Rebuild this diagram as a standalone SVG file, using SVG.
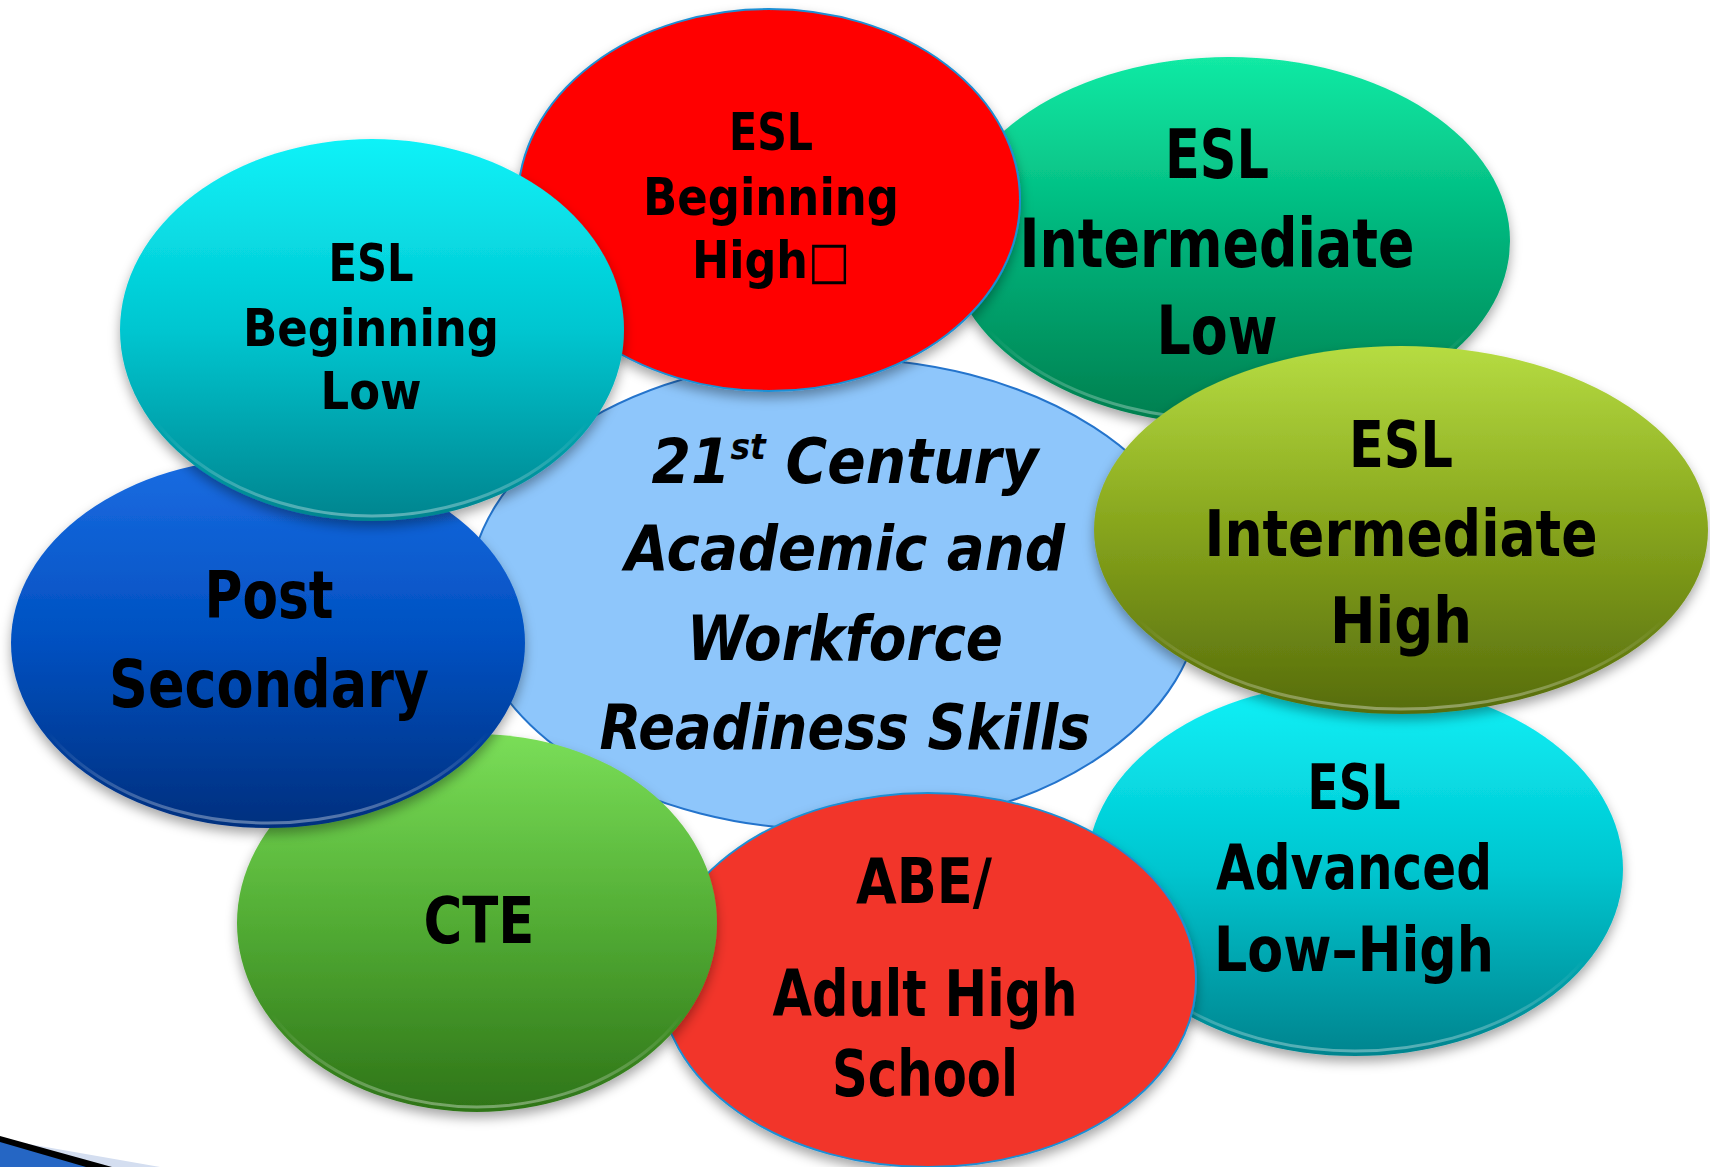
<svg xmlns="http://www.w3.org/2000/svg" width="1710" height="1167" viewBox="0 0 1710 1167">
<style>
.t{font-family:"DejaVu Sans Condensed","DejaVu Sans",sans-serif;font-stretch:condensed;font-weight:bold;fill:#000;text-anchor:middle}
.it{font-family:"DejaVu Sans Condensed","DejaVu Sans",sans-serif;font-stretch:condensed;font-weight:bold;font-style:italic;fill:#000;text-anchor:middle}
.sh{filter:url(#shadow)}
.rim{fill:none;stroke:url(#gRim);stroke-width:3}
</style>
<defs>
<filter id="shadow" x="-20%" y="-20%" width="140%" height="150%">
<feDropShadow dx="0" dy="6" stdDeviation="6" flood-color="#000" flood-opacity="0.35"/>
</filter>
<linearGradient id="gRim" x1="0" y1="0" x2="0" y2="1">
<stop offset="0" stop-color="#fff" stop-opacity="0"/><stop offset="0.75" stop-color="#fff" stop-opacity="0"/><stop offset="1" stop-color="#fff" stop-opacity="0.35"/>
</linearGradient>
<linearGradient id="gCyan" x1="0" y1="0" x2="0" y2="1">
<stop offset="0" stop-color="#10f2f8"/><stop offset="0.5" stop-color="#00c6d0"/><stop offset="1" stop-color="#02848e"/>
</linearGradient>
<linearGradient id="gGreen" x1="0" y1="0" x2="0" y2="1">
<stop offset="0" stop-color="#12eaa4"/><stop offset="0.5" stop-color="#00b27a"/><stop offset="1" stop-color="#007e4e"/>
</linearGradient>
<linearGradient id="gOlive" x1="0" y1="0" x2="0" y2="1">
<stop offset="0" stop-color="#b6dc42"/><stop offset="0.5" stop-color="#86a41c"/><stop offset="1" stop-color="#566c0c"/>
</linearGradient>
<linearGradient id="gBlue" x1="0" y1="0" x2="0" y2="1">
<stop offset="0" stop-color="#1a6ce2"/><stop offset="0.5" stop-color="#0050c0"/><stop offset="1" stop-color="#002f7e"/>
</linearGradient>
<linearGradient id="gLime" x1="0" y1="0" x2="0" y2="1">
<stop offset="0" stop-color="#7ade58"/><stop offset="0.5" stop-color="#52ac34"/><stop offset="1" stop-color="#2e7418"/>
</linearGradient>
</defs>
<rect width="1710" height="1167" fill="#fff"/>

<g id="swoosh">
<polygon points="0,1139 160,1167 0,1167" fill="#d4def0"/>
<polygon points="0,1136 112,1167 0,1167" fill="#000"/>
<polygon points="0,1142 86,1167 0,1167" fill="#2566c4"/>
</g>

<g id="node-center">
<ellipse cx="835" cy="594" rx="366" ry="236" fill="#8ec6fb" stroke="#2474cc" stroke-width="2"/>
<text class="it" font-size="62" x="845" y="483" textLength="387" lengthAdjust="spacingAndGlyphs">21<tspan font-size="36" dy="-24">st</tspan><tspan dy="24"> Century</tspan></text>
<text class="it" font-size="62" x="845" y="570" textLength="440" lengthAdjust="spacingAndGlyphs">Academic and</text>
<text class="it" font-size="62" x="845" y="660" textLength="316" lengthAdjust="spacingAndGlyphs">Workforce</text>
<text class="it" font-size="62" x="845" y="749" textLength="491" lengthAdjust="spacingAndGlyphs">Readiness Skills</text>
</g>

<g id="node-advanced">
<ellipse class="sh" cx="1355" cy="869" rx="268" ry="187" fill="url(#gCyan)"/>
<ellipse class="rim" cx="1355" cy="867" rx="265" ry="184"/>
<text class="t" font-size="62" x="1354" y="809" textLength="93" lengthAdjust="spacingAndGlyphs">ESL</text>
<text class="t" font-size="62" x="1354" y="889" textLength="276" lengthAdjust="spacingAndGlyphs">Advanced</text>
<text class="t" font-size="62" x="1354" y="971" textLength="280" lengthAdjust="spacingAndGlyphs">Low–High</text>
</g>

<g id="node-abe">
<ellipse class="sh" cx="928" cy="980" rx="268" ry="187" fill="#f2352b" stroke="#1f8fd4" stroke-width="2"/>
<text class="t" font-size="62" x="924" y="903" textLength="136" lengthAdjust="spacingAndGlyphs">ABE/</text>
<text class="t" font-size="64" x="925" y="1016" textLength="305" lengthAdjust="spacingAndGlyphs">Adult High</text>
<text class="t" font-size="64" x="925" y="1096" textLength="186" lengthAdjust="spacingAndGlyphs">School</text>
</g>

<g id="node-cte">
<ellipse class="sh" cx="477" cy="923" rx="240" ry="189" fill="url(#gLime)"/>
<ellipse class="rim" cx="477" cy="921" rx="237" ry="186"/>
<text class="t" font-size="64" x="479" y="943" textLength="111" lengthAdjust="spacingAndGlyphs">CTE</text>
</g>

<g id="node-post">
<ellipse class="sh" cx="268" cy="643" rx="257" ry="185" fill="url(#gBlue)"/>
<ellipse class="rim" cx="268" cy="641" rx="254" ry="182"/>
<text class="t" font-size="66" x="269" y="618" textLength="129" lengthAdjust="spacingAndGlyphs">Post</text>
<text class="t" font-size="66" x="269" y="707" textLength="320" lengthAdjust="spacingAndGlyphs">Secondary</text>
</g>

<g id="node-int-low">
<ellipse class="sh" cx="1229" cy="241" rx="281" ry="184" fill="url(#gGreen)"/>
<ellipse class="rim" cx="1229" cy="239" rx="278" ry="181"/>
<text class="t" font-size="68" x="1217" y="178" textLength="104" lengthAdjust="spacingAndGlyphs">ESL</text>
<text class="t" font-size="68" x="1217" y="267" textLength="395" lengthAdjust="spacingAndGlyphs">Intermediate</text>
<text class="t" font-size="68" x="1217" y="354" textLength="121" lengthAdjust="spacingAndGlyphs">Low</text>
</g>

<g id="node-beg-high">
<ellipse class="sh" cx="769" cy="200" rx="251" ry="191" fill="#ff0000" stroke="#1f8fd4" stroke-width="2"/>
<text class="t" font-size="52" x="771" y="150" textLength="84" lengthAdjust="spacingAndGlyphs">ESL</text>
<text class="t" font-size="52" x="771" y="215" textLength="256" lengthAdjust="spacingAndGlyphs">Beginning</text>
<text class="t" font-size="52" x="771" y="278" textLength="158" lengthAdjust="spacingAndGlyphs">High□</text>
</g>

<g id="node-int-high">
<ellipse class="sh" cx="1401" cy="530" rx="307" ry="184" fill="url(#gOlive)"/>
<ellipse class="rim" cx="1401" cy="528" rx="304" ry="181"/>
<text class="t" font-size="64" x="1401" y="467" textLength="104" lengthAdjust="spacingAndGlyphs">ESL</text>
<text class="t" font-size="64" x="1401" y="556" textLength="393" lengthAdjust="spacingAndGlyphs">Intermediate</text>
<text class="t" font-size="64" x="1401" y="643" textLength="142" lengthAdjust="spacingAndGlyphs">High</text>
</g>

<g id="node-beg-low">
<ellipse class="sh" cx="372" cy="330" rx="252" ry="191" fill="url(#gCyan)"/>
<ellipse class="rim" cx="372" cy="328" rx="249" ry="188"/>
<text class="t" font-size="52" x="371" y="281" textLength="85" lengthAdjust="spacingAndGlyphs">ESL</text>
<text class="t" font-size="52" x="371" y="346" textLength="256" lengthAdjust="spacingAndGlyphs">Beginning</text>
<text class="t" font-size="52" x="371" y="409" textLength="101" lengthAdjust="spacingAndGlyphs">Low</text>
</g>

<g id="connectors"/>
</svg>
